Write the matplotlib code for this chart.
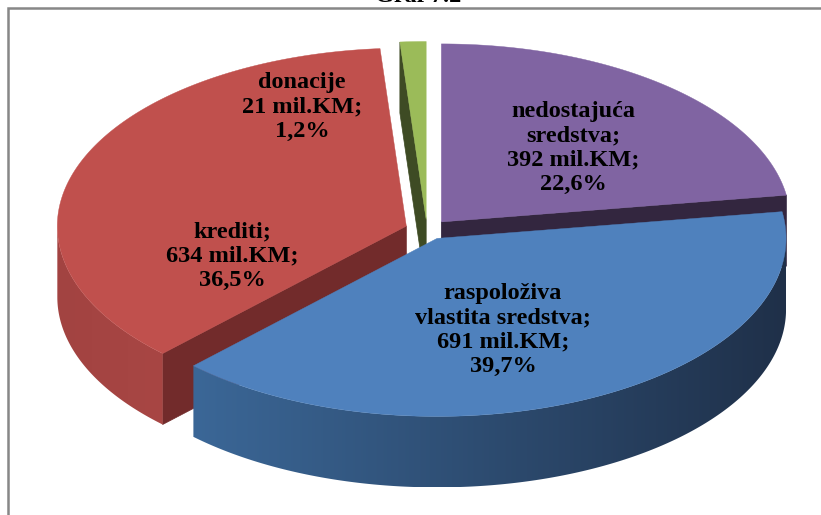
import numpy as np
import matplotlib.pyplot as plt
from matplotlib.patches import Polygon
from matplotlib.colors import to_rgb

# data (mil.KM and share in %), clockwise from 12 o'clock
names = ["nedostajuća\nsredstva;", "raspoloživa\nvlastita sredstva;", "krediti;", "donacije"]
amounts = [392, 691, 634, 21]
shares = [22.6, 39.7, 36.5, 1.2]

top_colors = ["#8064A2", "#4F81BD", "#C0504D", "#9BBB59"]
cut_colors = ["#33263F", "#1F3049", "#722B2B", "#3E4B24"]
# wall gradient (left -> right on screen)
wall_colors = [("#5E4A78", "#33263F"), ("#3B6797", "#1F3049"),
               ("#A24341", "#A84644"), ("#748C42", "#3E4B24")]

# label anchors (pixel coords)
label_pos = [(573, 148), (503, 330), (232, 256), (302, 107)]

# pie geometry in pixels
CX, CY = 427, 229.5
A, B, H = 349, 178, 71
EXPL_X, EXPL_Y = 22, 10
draw_order = [0, 3, 2, 1]

fig = plt.figure(figsize=(8.21, 5.15), dpi=100)
ax = fig.add_axes([0, 0, 1, 1])
ax.set_xlim(0, 821)
ax.set_ylim(515, 0)
ax.axis("off")


def rim(t, tip):
    return np.column_stack([tip[0] + A * np.sin(t), tip[1] - B * np.cos(t)])


bounds = np.concatenate([[0], np.cumsum(shares)]) / sum(shares) * 2 * np.pi

z = 1
for i in draw_order:
    t1, t2 = bounds[i], bounds[i + 1]
    m = (t1 + t2) / 2
    tip = np.array([CX + EXPL_X * np.sin(m), CY - EXPL_Y * np.cos(m)])

    # radial cut faces
    for t, vis in ((t1, np.sin(t1) < -1e-6), (t2, np.sin(t2) > 1e-6)):
        if not vis:
            continue
        p = rim(np.array([t]), tip)[0]
        quad = [tip, p, p + [0, H], tip + [0, H]]
        ax.add_patch(Polygon(quad, closed=True, fc=cut_colors[i], ec=cut_colors[i],
                             lw=0.5, zorder=z))
        z += 1

    # outer wall (front half only), horizontal gradient clipped to the wall
    w1, w2 = max(t1, np.pi / 2), min(t2, 3 * np.pi / 2)
    if w2 > w1:
        ts = np.linspace(w1, w2, 200)
        top = rim(ts, tip)
        wall = np.vstack([top, (top + [0, H])[::-1]])
        patch = Polygon(wall, closed=True, fc="none", ec="none", zorder=z)
        ax.add_patch(patch)
        x0, x1 = wall[:, 0].min(), wall[:, 0].max()
        y0, y1 = wall[:, 1].min(), wall[:, 1].max()
        f = np.linspace(0, 1, 256)
        c0, c1 = np.array(to_rgb(wall_colors[i][0])), np.array(to_rgb(wall_colors[i][1]))
        grad = (c0[None, :] + (c1 - c0)[None, :] * f[:, None])[None, :, :]
        im = ax.imshow(grad, extent=[x0, x1, y1, y0], aspect="auto",
                       interpolation="bilinear", zorder=z)
        im.set_clip_path(patch)
        z += 1

    # top face
    ts = np.linspace(t1, t2, 200)
    poly = np.vstack([tip, rim(ts, tip)])
    ax.add_patch(Polygon(poly, closed=True, fc=top_colors[i], ec=top_colors[i],
                         lw=0.3, zorder=z))
    z += 1

ax.set_xlim(0, 821)
ax.set_ylim(515, 0)

# data labels
for i in range(len(names)):
    pct = f"{shares[i]:.1f}".replace(".", ",") + "%"
    txt = f"{names[i]}\n{amounts[i]} mil.KM;\n{pct}"
    ax.text(label_pos[i][0], label_pos[i][1], txt, ha="center", va="center",
            multialignment="center", fontsize=17.5, fontweight="bold",
            family="Liberation Serif", linespacing=1.2, color="black", zorder=z)

# chart title (cut off at the top in the original)
ax.text(418, 2, "Graf 7.2", ha="center", va="baseline", fontsize=17.5,
        fontweight="bold", family="Liberation Serif")

# chart area border
ax.plot([8, 8, 821], [515, 8, 8], color="#878787", lw=1.8, solid_joinstyle="miter",
        zorder=z)

fig.savefig("out.png", dpi=100)
